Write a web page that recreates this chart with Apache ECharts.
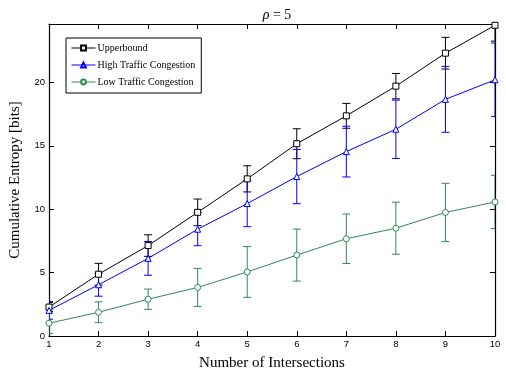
<!DOCTYPE html>
<html>
<head>
<meta charset="utf-8">
<script src="https://cdn.jsdelivr.net/npm/echarts@6/dist/echarts.min.js"></script>
<style>
  html, body { margin: 0; padding: 0; background: #fff; }
  #chart { width: 506px; height: 376px; }
</style>
</head>
<body>
<div id="chart"></div>
<script>
// intersections on x axis
const intersections = [1, 2, 3, 4, 5, 6, 7, 8, 9, 10];

// mean values
const upperbound = [2.28, 4.87, 7.13, 9.75, 12.39, 15.16, 17.36, 19.7, 22.3, 24.5];
const highTraffic = [2.02, 4.04, 6.12, 8.42, 10.44, 12.57, 14.54, 16.3, 18.66, 20.2];
const lowTraffic = [1.01, 1.87, 2.9, 3.83, 5.05, 6.38, 7.67, 8.5, 9.74, 10.57];

// half widths of the error bars
const upperboundErr = [0.35, 0.86, 0.85, 1.05, 1.03, 1.18, 0.98, 1.0, 1.25, 1.25];
const highTrafficErr = [0.7, 0.9, 1.33, 1.3, 1.82, 2.14, 2.0, 2.3, 2.6, 2.9];
const lowTrafficErr = [0.8, 0.82, 0.8, 1.5, 2.0, 2.05, 1.95, 2.05, 2.3, 2.1];

const yTicks = [0, 5, 10, 15, 20];

const BLACK = '#000000';
const BLUE = '#0000ff';
const GREEN = '#2e8b57';
const SERIF = 'Liberation Serif';

function pairs(vals) {
  return intersections.map((x, i) => [x, vals[i]]);
}

function errData(vals, errs) {
  return intersections.map((x, i) => [x, vals[i] - errs[i], vals[i] + errs[i]]);
}

function errRender(color) {
  return function (params, api) {
    const x = api.value(0);
    const lo = api.coord([x, api.value(1)]);
    const hi = api.coord([x, api.value(2)]);
    const cap = 4;
    const style = { stroke: color, lineWidth: 1 };
    return {
      type: 'group',
      children: [
        { type: 'line', shape: { x1: lo[0], y1: lo[1], x2: hi[0], y2: hi[1] }, style: style },
        { type: 'line', shape: { x1: lo[0] - cap, y1: lo[1], x2: lo[0] + cap, y2: lo[1] }, style: style },
        { type: 'line', shape: { x1: hi[0] - cap, y1: hi[1], x2: hi[0] + cap, y2: hi[1] }, style: style }
      ]
    };
  };
}

function lineSeries(name, vals, color, symbol) {
  return {
    name: name,
    type: 'line',
    data: pairs(vals),
    symbol: symbol,
    symbolSize: 6,
    showSymbol: true,
    clip: true,
    color: color,
    lineStyle: { color: color, width: 1 },
    itemStyle: { color: '#fff', borderColor: color, borderWidth: 1 },
    z: 3
  };
}

function errSeries(vals, errs, color) {
  return {
    type: 'custom',
    renderItem: errRender(color),
    data: errData(vals, errs),
    encode: { x: 0, y: [1, 2] },
    clip: true,
    silent: true,
    z: 2
  };
}

const axisCommon = {
  axisLine: { show: true, onZero: false, lineStyle: { color: BLACK, width: 1.2 } },
  axisTick: { show: true, inside: true, length: 5, lineStyle: { color: BLACK } },
  splitLine: { show: false }
};

const chart = echarts.init(document.getElementById('chart'));
chart.setOption({
  animation: false,
  backgroundColor: '#fff',
  title: {
    text: '{i|ρ} = 5',
    left: 272,
    textAlign: 'center',
    top: 3,
    textStyle: {
      fontFamily: SERIF, fontSize: 14, fontWeight: 'normal', color: BLACK,
      rich: { i: { fontFamily: SERIF, fontSize: 14, fontStyle: 'italic', color: BLACK } }
    }
  },
  legend: {
    orient: 'vertical',
    left: 66,
    top: 38,
    padding: [4, 6, 5, 5],
    itemGap: 5,
    itemWidth: 24,
    itemHeight: 6,
    borderColor: BLACK,
    borderWidth: 1,
    backgroundColor: '#fff',
    lineStyle: { width: 1 },
    data: ['Upperbound', 'High Traffic Congestion', 'Low Traffic Congestion'],
    textStyle: { fontFamily: SERIF, fontSize: 10, lineHeight: 12, color: BLACK, padding: [0, 0, 0, -3] }
  },
  grid: { left: 49, right: 11, top: 24, bottom: 35 },
  xAxis: [
    Object.assign({}, axisCommon, {
      type: 'value',
      min: 1,
      max: 10,
      interval: 1,
      position: 'bottom',
      name: 'Number of Intersections',
      nameLocation: 'middle',
      nameGap: 20,
      nameTextStyle: { fontFamily: SERIF, fontSize: 15, color: BLACK },
      axisLabel: { fontFamily: 'Liberation Sans', fontSize: 9.5, color: BLACK, margin: 3 }
    }),
    Object.assign({}, axisCommon, {
      type: 'value',
      min: 1,
      max: 10,
      interval: 1,
      position: 'top',
      axisLabel: { show: false }
    })
  ],
  yAxis: [
    Object.assign({}, axisCommon, {
      type: 'value',
      min: 0,
      max: 24.6,
      interval: 5,
      position: 'left',
      name: 'Cumulative Entropy [bits]',
      nameLocation: 'middle',
      nameGap: 26,
      nameTextStyle: { fontFamily: SERIF, fontSize: 15, color: BLACK },
      axisLabel: {
        fontFamily: 'Liberation Sans', fontSize: 9.5, color: BLACK, margin: 4,
        showMaxLabel: false,
        formatter: v => (yTicks.indexOf(v) >= 0 ? String(v) : '')
      }
    }),
    Object.assign({}, axisCommon, {
      type: 'value',
      min: 0,
      max: 24.6,
      interval: 5,
      position: 'right',
      axisLabel: { show: false }
    })
  ],
  series: [
    errSeries(upperbound, upperboundErr, BLACK),
    errSeries(highTraffic, highTrafficErr, BLUE),
    errSeries(lowTraffic, lowTrafficErr, GREEN),
    lineSeries('Upperbound', upperbound, BLACK, 'rect'),
    lineSeries('High Traffic Congestion', highTraffic, BLUE, 'triangle'),
    lineSeries('Low Traffic Congestion', lowTraffic, GREEN, 'circle')
  ]
});
</script>
</body>
</html>
